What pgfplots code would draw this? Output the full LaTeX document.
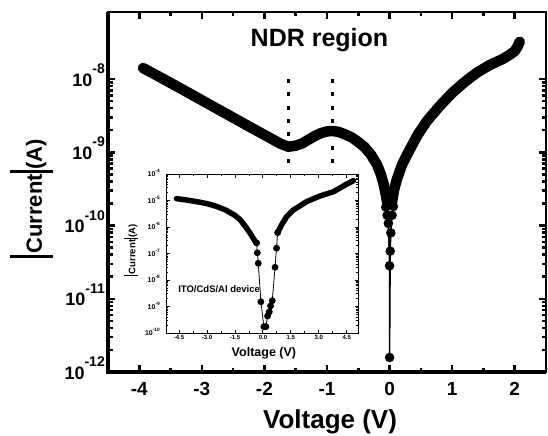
\documentclass[border=0pt]{standalone}
\usepackage{pgfplots}
\pgfplotsset{compat=1.18}
\usepackage{fontspec}
\setmainfont{Liberation Sans}
\usetikzlibrary{calc}
\newcommand{\mpow}[1]{10\raisebox{12.5pt}{\fontsize{14}{14}\selectfont #1}}
\newcommand{\ipow}[1]{10\raisebox{3.8pt}{\fontsize{4.8}{4.8}\selectfont #1}}
\begin{document}
\begin{tikzpicture}
\begin{axis}[
  name=main, at={(0,0)}, anchor=south west,
  scale only axis, width=438pt, height=360pt,
  xmin=-4.5, xmax=2.5, ymode=log, ymin=1e-12, ymax=8.22e-8,
  axis line style={line width=1.5pt},
  xtick={-4,-3,-2,-1,0,1,2}, xticklabels={-4,-3,-2,-1,0,1,2},
  ytick={1e-12,1e-11,1e-10,1e-9,1e-8},
  yticklabels={\mpow{-12},\mpow{-11},\mpow{-10},\mpow{-9},\mpow{-8}},
  minor xtick={-4.5,-3.5,-2.5,-1.5,-0.5,0.5,1.5},
  major tick length=7pt, minor tick length=4.5pt,
  every tick/.style={line width=2.5pt, black},
  xticklabel style={font=\fontsize{19}{19}\selectfont\bfseries, inner ysep=0pt, yshift=-10pt},
  yticklabel style={font=\fontsize{18}{18}\selectfont\bfseries, anchor=base east, inner xsep=0pt, xshift=-3pt, yshift=-7pt},
  xlabel={Voltage (V)},
  xlabel style={font=\fontsize{26}{26}\selectfont\bfseries, at={(axis description cs:0.507,-0.1556)}, anchor=base, inner sep=0pt},
  ylabel={\rule[-11pt]{3pt}{43pt}\hspace{1.5pt}Current\hspace{1.5pt}\rule[-11pt]{3pt}{43pt}(A)},
  ylabel style={font=\fontsize{22}{22}\selectfont\bfseries, at={(axis description cs:-0.1256,0.482)}, anchor=south, inner sep=0pt},
]
% dotted NDR markers
\addplot[black, line width=3pt, dash pattern=on 4pt off 9.3pt] coordinates {(-1.62,1e-8) (-1.62,5.6e-10)};
\addplot[black, line width=3pt, dash pattern=on 4pt off 9.3pt] coordinates {(-0.92,1e-8) (-0.92,5.6e-10)};
% left branch
\addplot[black, line width=10.5pt, line join=round, line cap=round] coordinates {
(-3.94,1.413e-8) (-3.7,1.096e-8) (-3.4,7.94e-9) (-3.0,5.13e-9) (-2.6,3.31e-9)
(-2.2,2.14e-9) (-1.9,1.55e-9) (-1.75,1.318e-9) (-1.62,1.189e-9) (-1.5,1.23e-9)
(-1.4,1.318e-9) (-1.3,1.479e-9) (-1.2,1.66e-9) (-1.1,1.82e-9) (-1.0,1.928e-9)
(-0.92,1.95e-9) (-0.82,1.905e-9) (-0.7,1.738e-9) (-0.6,1.585e-9) (-0.5,1.38e-9)
(-0.4,1.175e-9) (-0.3,9.33e-10) (-0.2,6.76e-10) (-0.14,5.01e-10) (-0.09,3.55e-10)
(-0.06,2.63e-10) (-0.04,2.09e-10)};
% right branch
\addplot[black, line width=10.5pt, line join=round, line cap=round] coordinates {
(0.04,2.09e-10) (0.07,3.02e-10) (0.12,4.37e-10) (0.2,6.76e-10) (0.3,1.0e-9)
(0.45,1.738e-9) (0.6,2.69e-9) (0.8,4.27e-9) (1.0,6.46e-9) (1.2,9.12e-9)
(1.4,1.23e-8) (1.6,1.55e-8) (1.8,1.862e-8) (1.92,2.14e-8) (2.0,2.40e-8)
(2.05,2.82e-8) (2.08,3.24e-8)};
% sparse points near 0 V
\addplot[black, line width=1.5pt, mark=*, mark size=4pt, mark options={fill=black}] coordinates {
(-0.06,1.78e-10) (-0.04,1.38e-10) (-0.02,1.07e-10) (0.0,2.82e-11) (0.0,1.58e-12)
(0.01,4.47e-11) (0.02,7.94e-11) (0.04,1.38e-10) (0.06,1.82e-10)};
\node[font=\fontsize{25}{25}\selectfont\bfseries, anchor=base] at (axis cs:-1.12,2.76e-8) {NDR region};
\end{axis}
\draw[line width=3.5pt] (main.north west) -- (main.south west) -- (main.south east);

\begin{axis}[
  name=inset, at={($(main.south west)+(58pt,39pt)$)}, anchor=south west,
  scale only axis, width=192pt, height=159pt,
  xmin=-5.2, xmax=5.1, ymode=log, ymin=1e-10, ymax=1e-4,
  axis background/.style={fill=white},
  axis line style={line width=1pt},
  xtick={-4.5,-3,-1.5,0,1.5,3,4.5}, xticklabels={-4.5,-3.0,-1.5,0.0,1.5,3.0,4.5},
  ytick={1e-10,1e-9,1e-8,1e-7,1e-6,1e-5,1e-4},
  yticklabels={\ipow{-10},\ipow{-9},\ipow{-8},\ipow{-7},\ipow{-6},\ipow{-5},\ipow{-4}},
  minor xtick={-3.75,-2.25,-0.75,0.75,2.25,3.75},
  major tick length=3.5pt, minor tick length=2pt,
  every tick/.style={line width=0.9pt, black},
  xticklabel style={font=\fontsize{6}{6}\selectfont\bfseries, inner ysep=0pt, yshift=-2pt},
  yticklabel style={font=\fontsize{7}{7}\selectfont\bfseries, anchor=base east, inner xsep=0pt, xshift=-6pt, yshift=-2.5pt},
  xlabel={Voltage (V)},
  xlabel style={font=\fontsize{12.5}{12.5}\selectfont\bfseries, at={(axis description cs:0.51,-0.149)}, anchor=base, inner sep=0pt},
  ylabel={\rule[-2.5pt]{1.2pt}{13.5pt}\hspace{0.6pt}Current\hspace{0.6pt}\rule[-2.5pt]{1.2pt}{13.5pt}(A)},
  ylabel style={font=\fontsize{9.5}{9.5}\selectfont\bfseries, at={(axis description cs:-0.1458,0.52)}, anchor=south, inner sep=0pt},
]
\addplot[black, line width=5.5pt, line join=round, line cap=round] coordinates {
(-4.64,1.175e-5) (-4.2,1.07e-5) (-3.5,8.91e-6) (-3.0,7.59e-6) (-2.5,6.03e-6)
(-2.0,4.37e-6) (-1.5,2.75e-6) (-1.2,1.82e-6) (-0.9,9.55e-7) (-0.7,6.03e-7)
(-0.5,3.55e-7) (-0.38,2.63e-7)};
\addplot[black, line width=5.5pt, line join=round, line cap=round] coordinates {
(0.79,6.17e-7) (1.0,1.2e-6) (1.27,2.45e-6) (1.63,4.37e-6) (1.99,6.31e-6)
(2.35,9.12e-6) (3.06,1.48e-5) (3.78,2.14e-5) (4.5,4.17e-5) (4.86,5.62e-5)};
\addplot[black, line width=0.8pt, mark=*, mark size=3pt, mark options={fill=black}] coordinates {
(-0.34,2.51e-7) (-0.30,1.07e-7) (-0.25,4.27e-8) (-0.11,1.51e-9) (0.05,1.74e-10)
(0.16,1.74e-10) (0.25,4.37e-10) (0.34,6.31e-10) (0.41,1.05e-9) (0.50,1.66e-9)
(0.65,3.02e-8) (0.73,1.585e-7) (0.79,6.17e-7)};
\node[font=\fontsize{9.5}{9.5}\selectfont\bfseries, anchor=west] at (axis cs:-4.73,4.57e-9) {ITO/CdS/Al device};
\end{axis}
\pgfresetboundingbox
\path ($(main.south west)+(-108pt,-63pt)$) rectangle ($(main.north east)+(2pt,12pt)$);
\end{tikzpicture}
\end{document}
